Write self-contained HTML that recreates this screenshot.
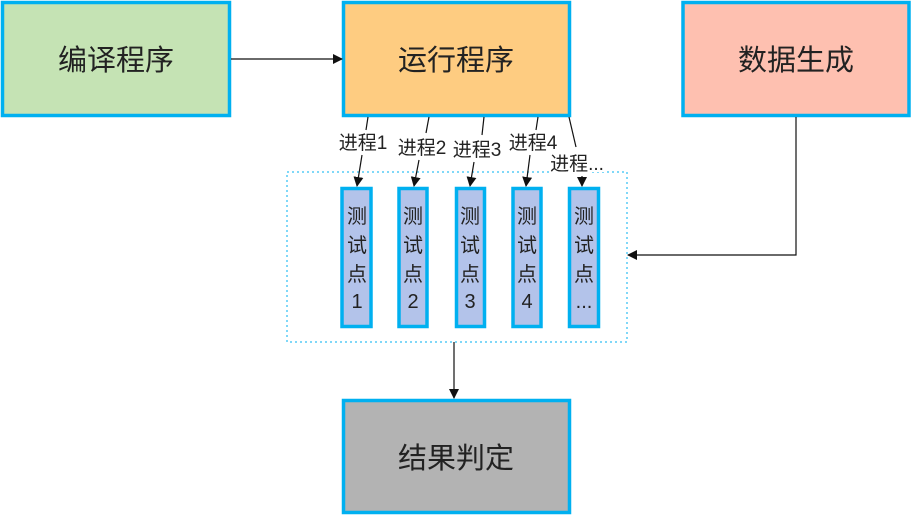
<!DOCTYPE html>
<html><head><meta charset="utf-8"><style>
html,body{margin:0;padding:0;background:#fff;}
svg text{font-family:"Liberation Sans","Noto Sans CJK SC",sans-serif;fill:#222;}
</style></head><body>
<svg width="912" height="515" viewBox="0 0 912 515" xmlns="http://www.w3.org/2000/svg">
<defs><marker id="a" markerWidth="10" markerHeight="10" refX="9" refY="5" orient="auto" markerUnits="userSpaceOnUse"><path d="M0,0 L10,5 L0,10 z" fill="#111"/></marker></defs>
<g stroke="#00b0f0" stroke-width="3.5">
<rect x="2.5" y="2.5" width="227" height="113" fill="#c5e3b4"/>
<rect x="343.5" y="2.5" width="226" height="113" fill="#fecc81"/>
<rect x="683" y="2.5" width="226" height="113" fill="#fec0b0"/>
<rect x="343.5" y="400.5" width="226" height="112" fill="#b3b3b3"/>
<rect x="342" y="188.5" width="29" height="138" fill="#b3c3ea"/>
<rect x="399" y="188.5" width="28" height="138" fill="#b3c3ea"/>
<rect x="456.5" y="188.5" width="28" height="138" fill="#b3c3ea"/>
<rect x="513" y="188.5" width="28" height="138" fill="#b3c3ea"/>
<rect x="569.5" y="188.5" width="29" height="138" fill="#b3c3ea"/>
</g>
<rect x="287" y="172" width="340" height="170" fill="none" stroke="#00b0f0" stroke-width="1" stroke-dasharray="2,3"/>
<g font-size="29" text-anchor="middle">
<text x="116" y="70">编译程序</text>
<text x="456" y="70">运行程序</text>
<text x="796" y="70">数据生成</text>
<text x="456" y="468">结果判定</text>
</g>
<g stroke="#111" stroke-width="1.2" fill="none">
<line x1="231" y1="59" x2="342" y2="59" marker-end="url(#a)"/>
<polyline points="796,117 796,255 628,255" marker-end="url(#a)"/>
<line x1="454" y1="342" x2="454" y2="398" marker-end="url(#a)"/>
<line x1="368" y1="117" x2="366" y2="130"/><line x1="362" y1="155" x2="357" y2="186" marker-end="url(#a)"/>
<line x1="429" y1="117" x2="426" y2="133"/><line x1="419" y1="160" x2="414" y2="186" marker-end="url(#a)"/>
<line x1="484" y1="117" x2="482" y2="135"/><line x1="474" y1="162" x2="470" y2="186" marker-end="url(#a)"/>
<line x1="538" y1="117" x2="536" y2="130"/><line x1="530" y1="155" x2="526" y2="186" marker-end="url(#a)"/>
<line x1="569" y1="117" x2="576" y2="147"/><line x1="582" y1="176" x2="582" y2="186" marker-end="url(#a)"/>
</g>
<g font-size="19" text-anchor="middle">
<text x="363" y="149" style="paint-order:stroke" stroke="#fff" stroke-width="4">进程1</text>
<text x="422" y="154" style="paint-order:stroke" stroke="#fff" stroke-width="4">进程2</text>
<text x="477" y="156" style="paint-order:stroke" stroke="#fff" stroke-width="4">进程3</text>
<text x="533" y="149" style="paint-order:stroke" stroke="#fff" stroke-width="4">进程4</text>
<text x="577" y="170" style="paint-order:stroke" stroke="#fff" stroke-width="4">进程...</text>
</g>
<g font-size="20" text-anchor="middle">
<text x="357" y="223">测</text><text x="357" y="252">试</text><text x="357" y="281">点</text><text x="357" y="308">1</text>
<text x="413" y="223">测</text><text x="413" y="252">试</text><text x="413" y="281">点</text><text x="413" y="308">2</text>
<text x="470" y="223">测</text><text x="470" y="252">试</text><text x="470" y="281">点</text><text x="470" y="308">3</text>
<text x="527" y="223">测</text><text x="527" y="252">试</text><text x="527" y="281">点</text><text x="527" y="308">4</text>
<text x="584" y="223">测</text><text x="584" y="252">试</text><text x="584" y="281">点</text><text x="584" y="308">...</text>
</g>
</svg>
</body></html>
